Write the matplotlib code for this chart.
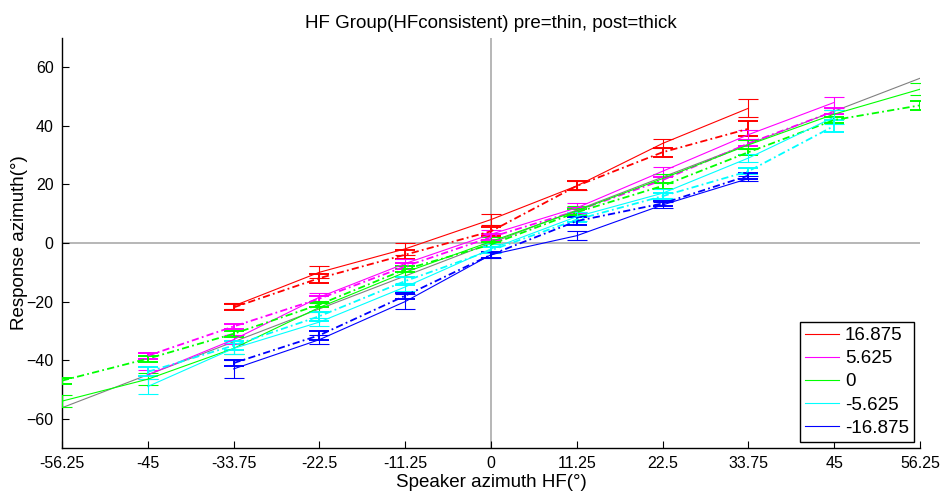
import matplotlib
matplotlib.use("Agg")
import matplotlib.pyplot as plt
import numpy as np
from matplotlib.lines import Line2D

plt.rcParams['font.family'] = ['Liberation Sans', 'DejaVu Sans']

xticks = [-56.25, -45, -33.75, -22.5, -11.25, 0, 11.25, 22.5, 33.75, 45, 56.25]
xtick_labels = ["-56.25", "-45", "-33.75", "-22.5", "-11.25", "0", "11.25", "22.5", "33.75", "45", "56.25"]
yticks = [-60, -40, -20, 0, 20, 40, 60]

series_names = ["16.875", "5.625", "0", "-5.625", "-16.875"]
series_colors = ["#ff0000", "#ff00ff", "#00ff00", "#00ffff", "#0000ff"]

# x positions per series
x_red = [-33.75, -22.5, -11.25, 0, 11.25, 22.5, 33.75]
x_mag = [-45, -33.75, -22.5, -11.25, 0, 11.25, 22.5, 33.75, 45]
x_grn = [-56.25, -45, -33.75, -22.5, -11.25, 0, 11.25, 22.5, 33.75, 45, 56.25]
x_cya = [-45, -33.75, -22.5, -11.25, 0, 11.25, 22.5, 33.75, 45]
x_blu = [-33.75, -22.5, -11.25, 0, 11.25, 22.5, 33.75]

# pre (thin, solid)
pre_red = [-21.5, -10, -2, 8, 19.5, 34, 46]
pre_mag = [-45, -33, -18.5, -7, 3, 12, 24.5, 37, 48]
pre_grn = [-54, -46.5, -36, -22, -10, 0.5, 11, 22, 33.5, 44, 52.5]
pre_cya = [-49, -36, -27, -15, -2, 9, 17, 29, 43]
pre_blu = [-43, -33, -20, -4, 2.5, 13, 22]

# post (thick, dash-dot)
post_red = [-22, -12, -4, 4, 19.5, 31, 39]
post_mag = [-38.5, -28.5, -19, -8, 2, 11, 21.5, 34, 45]
post_grn = [-47, -39.5, -31, -21, -9, -0.5, 10.5, 19.5, 31, 42, 47]
post_cya = [-44, -35, -25, -13, -2.5, 8, 16, 24.5, 40]
post_blu = [-41, -31.5, -18, -4, 7.5, 13.5, 23]

# error half-widths
pre_red_err = [1.0, 2.0, 2.0, 2.0, 1.5, 1.5, 3.0]
pre_mag_err = [1.5, 1.5, 1.5, 1.5, 1.5, 1.5, 1.5, 1.5, 2.0]
pre_grn_err = [2.0, 2.0, 2.0, 1.5, 1.5, 1.5, 1.5, 1.5, 1.5, 1.5, 2.0]
pre_cya_err = [2.5, 2.0, 1.5, 1.5, 1.5, 1.5, 1.5, 1.5, 2.5]
pre_blu_err = [3.0, 1.5, 2.5, 1.0, 1.5, 1.0, 1.0]

post_red_err = [1.0, 1.5, 1.5, 1.5, 1.5, 1.5, 2.5]
post_mag_err = [1.0, 1.0, 1.0, 1.0, 1.0, 1.0, 1.0, 1.0, 1.0]
post_grn_err = [1.0, 1.0, 1.0, 1.0, 1.0, 1.0, 1.0, 1.0, 1.0, 1.0, 1.5]
post_cya_err = [1.5, 1.5, 1.5, 1.5, 1.0, 1.0, 1.0, 1.0, 2.0]
post_blu_err = [1.0, 1.5, 1.0, 1.0, 1.5, 1.0, 1.0]

xs = [x_red, x_mag, x_grn, x_cya, x_blu]
pres = [pre_red, pre_mag, pre_grn, pre_cya, pre_blu]
posts = [post_red, post_mag, post_grn, post_cya, post_blu]
pre_errs = [pre_red_err, pre_mag_err, pre_grn_err, pre_cya_err, pre_blu_err]
post_errs = [post_red_err, post_mag_err, post_grn_err, post_cya_err, post_blu_err]

fig = plt.figure(figsize=(9.43, 4.96), dpi=100)
ax = fig.add_axes([62/943, 1-448/496, (920-62)/943, (448-38)/496])

ax.axhline(0, color="#aaaaaa", lw=1.2, zorder=1)
ax.axvline(0, color="#aaaaaa", lw=1.2, zorder=1)
ax.plot([-56.25, 56.25], [-56.25, 56.25], color="#808080", lw=0.8, zorder=2)

for x, pre, post, pe, po, c, name in zip(xs, pres, posts, pre_errs, post_errs, series_colors, series_names):
    ax.errorbar(x, pre, yerr=pe, color=c, lw=0.8, elinewidth=0.8, capsize=7, capthick=0.8,
                ls='-', zorder=3, label=name)
    ax.errorbar(x, post, yerr=po, color=c, lw=1.3, elinewidth=1.4, capsize=7, capthick=1.4,
                ls=(0, (4, 1.8, 1, 1.8)), zorder=3)

ax.set_xlim(-56.25, 56.25)
ax.set_ylim(-70, 70)
ax.set_xticks(xticks)
ax.set_xticklabels(xtick_labels)
ax.set_yticks(yticks)
ax.tick_params(direction='in', length=5, labelsize=11.5, width=0.8, pad=6)
for s in ['top', 'right']:
    ax.spines[s].set_visible(False)
for s in ['left', 'bottom']:
    ax.spines[s].set_linewidth(1.0)

ax.set_title("HF Group(HFconsistent) pre=thin, post=thick", fontsize=13.5, pad=7)
ax.set_xlabel("Speaker azimuth HF(°)", fontsize=13.5, labelpad=2)
ax.set_ylabel("Response azimuth(°)", fontsize=13.5, labelpad=-1)

leg_handles = [Line2D([0], [0], color=c, lw=0.8) for c in series_colors]
leg = ax.legend(leg_handles, series_names, loc='lower right', fontsize=13.5, frameon=True,
                fancybox=False, edgecolor='black', framealpha=1, handlelength=1.8,
                borderpad=0.3, labelspacing=0.32, handletextpad=0.3, borderaxespad=0.3)
leg.get_frame().set_linewidth(1.0)

fig.savefig("out.png", dpi=100)
